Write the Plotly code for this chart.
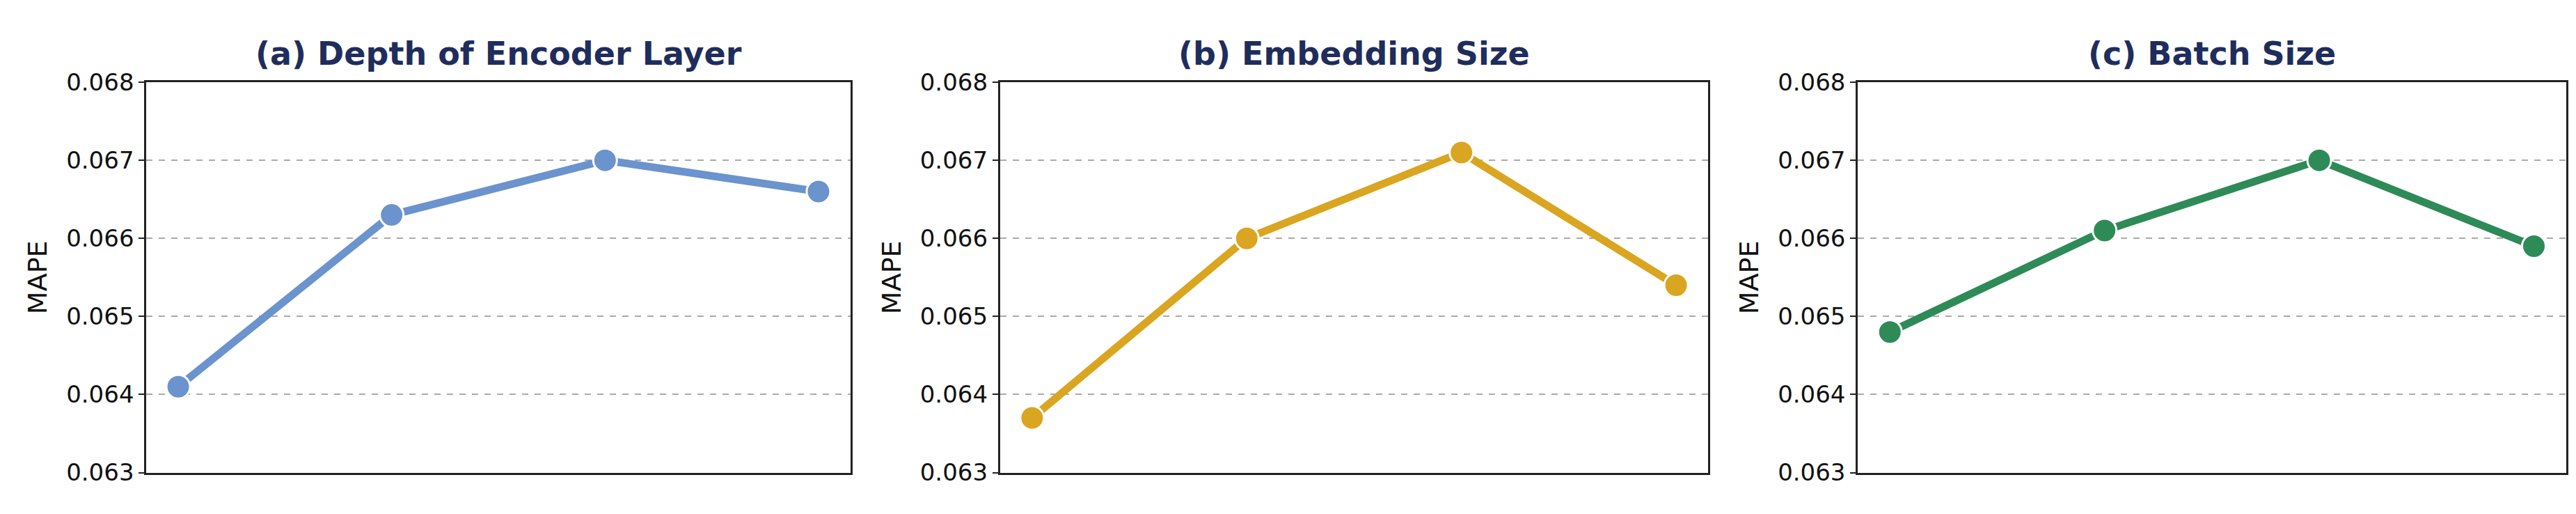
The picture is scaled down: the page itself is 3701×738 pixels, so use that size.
import plotly.graph_objects as go

steps = [0, 1, 2, 3]
depth_mape = [0.0641, 0.0663, 0.0670, 0.0666]
embed_mape = [0.0637, 0.0660, 0.0671, 0.0654]
batch_mape = [0.0648, 0.0661, 0.0670, 0.0659]

titles = ['(a) Depth of Encoder Layer', '(b) Embedding Size', '(c) Batch Size']
colors = ['#6b93cd', '#daa520', '#2e8b57']
series = [depth_mape, embed_mape, batch_mape]
xdomains = [(0.0546, 0.328), (0.386, 0.661), (0.719, 0.994)]

fig = go.Figure()
for i, (vals, col, dom, title) in enumerate(zip(series, colors, xdomains, titles)):
    n = '' if i == 0 else str(i + 1)
    fig.add_trace(go.Scatter(
        x=steps, y=vals, mode='lines+markers',
        line=dict(color=col, width=11),
        marker=dict(size=34, color=col, line=dict(color='white', width=3)),
        xaxis='x' + n, yaxis='y' + n, showlegend=False))
    fig.update_layout(**{
        'xaxis' + n: dict(domain=dom, range=[-0.15, 3.15], showticklabels=False,
                          showgrid=False, zeroline=False, showline=True, mirror=True,
                          linecolor='#222', linewidth=2.5, ticks=''),
        'yaxis' + n: dict(domain=[0.068, 0.871], range=[0.063, 0.068], dtick=0.001,
                          tickformat='.3f', anchor='x' + n, showgrid=True,
                          gridcolor='#aaaaaa', griddash='dash', gridwidth=2,
                          zeroline=False, showline=True, mirror=True,
                          linecolor='#222', linewidth=2.5, ticks='outside',
                          ticklen=8, tickwidth=2, tickcolor='#222',
                          title=dict(text='MAPE', font=dict(size=38), standoff=16)),
    })
    fig.add_annotation(x=(dom[0] + dom[1]) / 2, y=0.93, xref='paper', yref='paper',
                       text='<b>' + title + '</b>', showarrow=False,
                       xanchor='center', yanchor='middle',
                       font=dict(size=46, color='#1f2d5c'))

fig.update_layout(width=3701, height=738, margin=dict(l=0, r=0, t=0, b=0),
                  plot_bgcolor='white', paper_bgcolor='white',
                  font=dict(family='DejaVu Sans', size=34, color='#111'))
fig.write_html('out.html')
